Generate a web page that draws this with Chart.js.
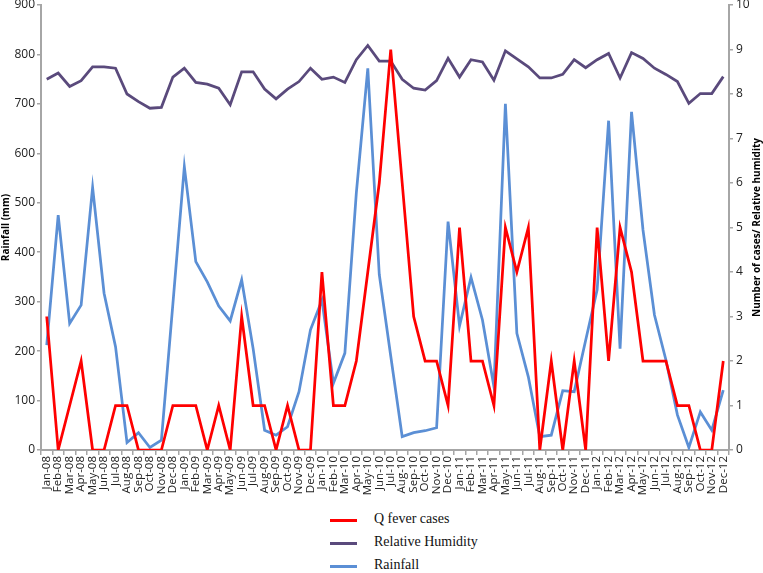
<!DOCTYPE html>
<html>
<head>
<meta charset="utf-8">
<script src="https://cdn.jsdelivr.net/npm/chart.js@4.4.0/dist/chart.umd.min.js"></script>
<style>
  body { margin: 0; background: #fff; }
  #wrap { position: relative; width: 763px; height: 573px; }
  #legend { position: absolute; left: 330px; top: 510px; font-family: "Liberation Serif", serif; font-size: 14px; color: #111; }
  .row { position: relative; height: 23px; width: 300px; }
  .row .ln { position: absolute; left: 0; top: 9px; width: 27px; height: 3px; }
  .row .tx { position: absolute; left: 44px; top: 1px; white-space: nowrap; }
</style>
</head>
<body>
<div id="wrap">
  <canvas id="chart" width="763" height="505"></canvas>
  <div id="legend"></div>
</div>
<script>
const months = [
  'Jan-08','Feb-08','Mar-08','Apr-08','May-08','Jun-08','Jul-08','Aug-08','Sep-08','Oct-08','Nov-08','Dec-08',
  'Jan-09','Feb-09','Mar-09','Apr-09','May-09','Jun-09','Jul-09','Aug-09','Sep-09','Oct-09','Nov-09','Dec-09',
  'Jan-10','Feb-10','Mar-10','Apr-10','May-10','Jun-10','Jul-10','Aug-10','Sep-10','Oct-10','Nov-10','Dec-10',
  'Jan-11','Feb-11','Mar-11','Apr-11','May-11','Jun-11','Jul-11','Aug-11','Sep-11','Oct-11','Nov-11','Dec-11',
  'Jan-12','Feb-12','Mar-12','Apr-12','May-12','Jun-12','Jul-12','Aug-12','Sep-12','Oct-12','Nov-12','Dec-12'
];

// Q fever cases (right axis)
const cases = [
  3,0,1,2,0,0,1,1,0,0,0,1,
  1,1,0,1,0,3,1,1,0,1,0,0,
  4,1,1,2,4,6,9,6,3,2,2,1,
  5,2,2,1,5,4,5,0,2,0,2,0,
  5,2,5,4,2,2,2,1,1,0,0,2
];

// relative humidity, in right axis units (% / 10)
const humidity = [
  8.33,8.47,8.17,8.30,8.61,8.61,8.58,8.00,7.83,7.68,7.70,8.38,
  8.58,8.26,8.22,8.13,7.76,8.50,8.50,8.11,7.89,8.11,8.28,8.58,
  8.33,8.38,8.26,8.77,9.09,8.74,8.74,8.33,8.13,8.09,8.30,8.80,
  8.38,8.77,8.72,8.31,8.97,8.79,8.61,8.36,8.36,8.44,8.77,8.59,
  8.77,8.91,8.36,8.93,8.80,8.58,8.44,8.28,7.79,8.01,8.01,8.39
];

// rainfall in mm (left axis)
const rainfall = [
  212,475,256,293,531,317,209,15,35,5,20,295,
  573,381,340,291,261,344,205,40,30,47,118,243,
  303,135,196,520,772,355,190,27,35,39,45,462,
  251,349,263,128,700,236,148,27,30,120,118,222,
  324,666,205,684,445,273,182,71,5,77,40,121
];

const axisGrey = '#a6a6a6';
const tickFont = { family: 'Open Sans', size: 12 };

const rightTitle = {
  id: 'rightTitle',
  afterDraw(chart) {
    const ctx = chart.ctx;
    const a = chart.chartArea;
    ctx.save();
    ctx.translate(757, (a.top + a.bottom) / 2);
    ctx.rotate(-Math.PI / 2);
    ctx.font = 'bold 10px "Open Sans"';
    ctx.fillStyle = '#000';
    ctx.textAlign = 'center';
    ctx.textBaseline = 'middle';
    ctx.fillText('Number of cases/ Relative humidity', 0, 0);
    ctx.restore();
  }
};

const chart = new Chart(document.getElementById('chart'), {
  type: 'line',
  data: {
    labels: months,
    datasets: [
      { label: 'Q fever cases', data: cases, yAxisID: 'y1', borderColor: '#ff0000', borderWidth: 2.75, pointRadius: 0, tension: 0 },
      { label: 'Relative Humidity', data: humidity, yAxisID: 'y1', borderColor: '#5a4a7c', borderWidth: 2.75, pointRadius: 0, tension: 0 },
      { label: 'Rainfall', data: rainfall, yAxisID: 'y', borderColor: '#5b8fd5', borderWidth: 2.75, pointRadius: 0, tension: 0 }
    ]
  },
  options: {
    responsive: false,
    animation: false,
    layout: { padding: { top: 5, left: 0, right: 0, bottom: 0 } },
    plugins: { legend: { display: false }, tooltip: { enabled: false } },
    scales: {
      x: {
        offset: true,
        grid: { display: true, drawOnChartArea: false, offset: true, tickLength: 5, color: axisGrey, lineWidth: 1.5 },
        border: { display: true, color: axisGrey, width: 2 },
        ticks: { autoSkip: false, minRotation: 90, maxRotation: 90, padding: 1, color: '#222', font: { family: 'Open Sans', size: 11.5 } },
        afterFit(s) { s.height = 55; s.paddingLeft = 0; s.paddingRight = 0; }
      },
      y: {
        position: 'left',
        min: 0, max: 900,
        ticks: { stepSize: 100, padding: 2, color: '#222', font: tickFont },
        grid: { display: true, drawOnChartArea: false, tickLength: 4, color: axisGrey, lineWidth: 1.5 },
        border: { display: true, color: axisGrey, width: 2 },
        title: { display: true, text: 'Rainfall (mm)', color: '#000', padding: 0, font: { family: 'Open Sans', size: 10, weight: 'bold' } },
        afterFit(s) { s.width = 41; s.paddingTop = 0; s.paddingBottom = 0; }
      },
      y1: {
        position: 'right',
        min: 0, max: 10,
        ticks: { stepSize: 1, padding: 3, color: '#222', font: tickFont },
        grid: { display: true, drawOnChartArea: false, tickLength: 4, color: axisGrey, lineWidth: 1.5 },
        border: { display: true, color: axisGrey, width: 2 },
        afterFit(s) { s.width = 34; s.paddingTop = 0; s.paddingBottom = 0; }
      }
    }
  },
  plugins: [rightTitle]
});

// legend below the chart, one item per row
const legend = document.getElementById('legend');
chart.data.datasets.forEach(function (ds) {
  const row = document.createElement('div');
  row.className = 'row';
  row.innerHTML = '<span class="ln" style="background:' + ds.borderColor + '"></span><span class="tx">' + ds.label + '</span>';
  legend.appendChild(row);
});
</script>
</body>
</html>
